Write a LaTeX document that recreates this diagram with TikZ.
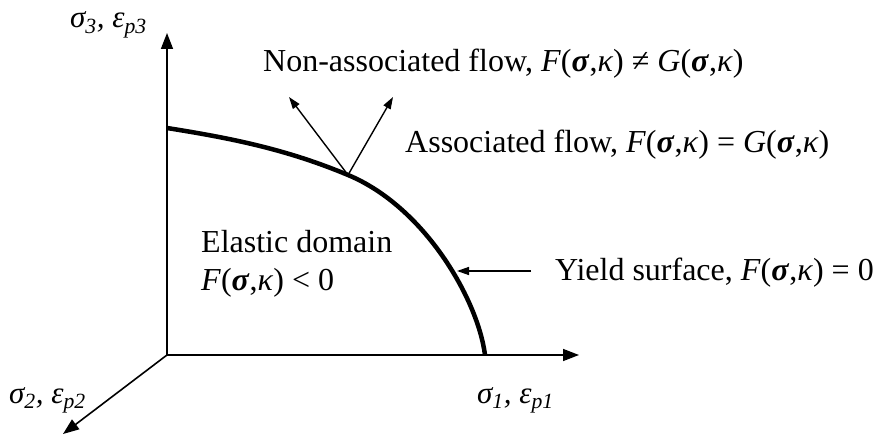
\documentclass[tikz,border=0pt]{standalone}
\usepackage{fontspec}
\setmainfont{Liberation Serif}
\usetikzlibrary{arrows.meta}
\newcommand{\fsk}[1]{\textit{#1}(\textbf{\textit{σ}},\textit{κ})}
\newcommand{\axlab}[2]{\textit{σ\textsubscript{#1},\ ε\textsubscript{p#2}}}

\begin{document}
\begin{tikzpicture}[x=1pt, y=-1pt, font=\fontsize{32}{38}\selectfont,
    axis/.style={line width=1.6pt, -{Triangle[length=16pt,width=12pt]}},
    flow/.style={line width=1.4pt, -{Triangle[length=12pt,width=8pt]}},
    lab/.style={anchor=base west, inner sep=0pt},
    axlabel/.style={lab, font=\fontsize{31}{34}\selectfont}]
        \useasboundingbox (0,0) rectangle (879,436);
        \coordinate (O) at (167,355);
        \coordinate (x1) at (579,355);
        \coordinate (x2) at (63,434);
        \coordinate (x3) at (167,33);
        \draw[axis] (O) -- (x1);
        \draw[axis] (O) -- (x2);
        \draw[axis] (O) -- (x3);
        \node[axlabel] (s3lab) at (70,28) {\axlab{3}{3}};
        \node[axlabel] (s1lab) at (477,403) {\axlab{1}{1}};
        \node[axlabel] (s2lab) at (9,403) {\axlab{2}{2}};
        \coordinate (fp) at (348,175);
        \draw[line width=4.5pt] (167,128) .. controls (230,138) and (286,149) .. (fp)
          .. controls (425,207) and (478,300) .. (485,355);
        \coordinate (nt) at (289,97);
        \coordinate (at) at (393,97);
        \draw[flow] (fp) -- (nt);
        \draw[flow] (fp) -- (at);
        \node[lab] (nonassoc) at (263,72) {Non-associated flow, \fsk{F} ≠ \fsk{G}};
        \node[lab] (assoc) at (405,152) {Associated flow, \fsk{F} = \fsk{G}};
        \node[lab] (elastic) at (201,252) {Elastic domain};
        \node[lab] (elastic2) at (201,290) {\fsk{F} < 0};
        \node[lab] (yieldlab) at (555,280) {Yield surface, \fsk{F} = 0};
        \coordinate (ys) at (531,271);
        \coordinate (yp) at (457,271);
        \draw[flow] (ys) -- (yp);
      \end{tikzpicture}
\end{document}
